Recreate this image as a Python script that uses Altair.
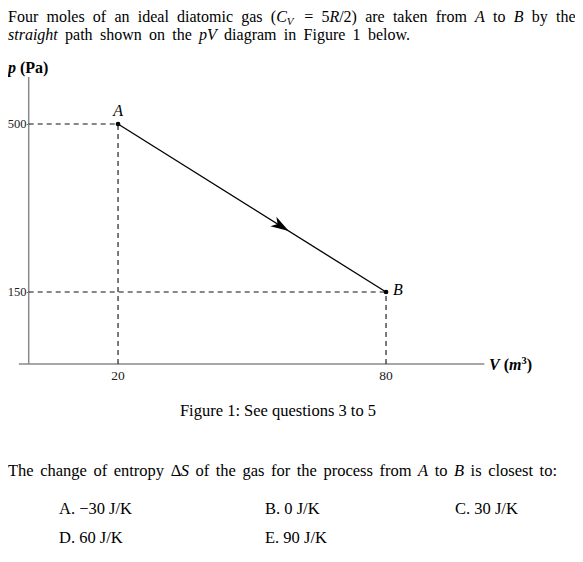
import altair as alt
import pandas as pd

# ---- chart data (pV diagram) ----
V_pts = [20, 80]            # m^3
p_pts = [500, 150]          # Pa
point_labels = ["A", "B"]
x_ticks = [20, 80]
y_ticks = [150, 500]
arrow_V = [56.5]
arrow_p = [287]
axis_V_extent = [-2.2, 102]
axis_p_top = [598]

W, H = 567, 540
SERIF = "Liberation Serif"

# scales: page x = 28.7 + 4.4667*V, page y = 364 - 0.48*p ; chart = page - 8
kx, ky = 4.4667, 0.48
x0, y0 = 28.7 - 8, 364 - 8
xs = alt.Scale(domain=[-x0 / kx, (W - x0) / kx], zero=False, nice=False)
ys = alt.Scale(domain=[(y0 - H) / ky, y0 / ky], zero=False, nice=False)

xaxis = alt.Axis(values=x_ticks, domain=False, ticks=False, labels=False, grid=False,
                 title=None, offset=-(H - y0))
yaxis = alt.Axis(values=y_ticks, domain=False, ticks=True, tickSize=2.5, tickColor="#777",
                 labels=False, grid=False, title=None, offset=-x0)

def X(f):
    return alt.X(f, type="quantitative", scale=xs, axis=xaxis)

def Y(f):
    return alt.Y(f, type="quantitative", scale=ys, axis=yaxis)

pts = pd.DataFrame({"V": V_pts, "p": p_pts, "label": point_labels})
pts["zero"] = 0

ax_h = pd.DataFrame({"a": [axis_V_extent[0]], "b": [axis_V_extent[1]], "p": [0]})
ax_v = pd.DataFrame({"V": [0], "a": [0], "b": axis_p_top})
axis_h = alt.Chart(ax_h).mark_rule(color="#8a8a8a", strokeWidth=1.5).encode(
    x=X("a"), x2="b", y=Y("p"))
axis_v = alt.Chart(ax_v).mark_rule(color="#8a8a8a", strokeWidth=1.5).encode(
    x=X("V"), y=Y("a"), y2="b")

# tick labels (through the same scales)
xt = pd.DataFrame({"V": x_ticks, "p": [0] * len(x_ticks), "t": [str(v) for v in x_ticks]})
yt = pd.DataFrame({"V": [0] * len(y_ticks), "p": y_ticks, "t": [str(v) for v in y_ticks]})
xlab = alt.Chart(xt).mark_text(font=SERIF, fontSize=13.5, color="#222", baseline="top",
                               dy=5).encode(x=X("V"), y=Y("p"), text="t:N")
ylab = alt.Chart(yt).mark_text(font=SERIF, fontSize=12.5, color="#222", align="right",
                               baseline="middle", dx=-2.2).encode(x=X("V"), y=Y("p"),
                                                                  text="t:N")

dash_h = alt.Chart(pts).mark_rule(color="#111", strokeWidth=1.2, strokeDash=[5, 4]).encode(
    x=X("zero"), x2="V", y=Y("p"))
dash_v = alt.Chart(pts).mark_rule(color="#222", strokeWidth=1.2, strokeDash=[5, 4]).encode(
    x=X("V"), y=Y("zero"), y2="p")

path = alt.Chart(pts).mark_line(color="black", strokeWidth=1.3).encode(
    x=X("V"), y=Y("p"), order="V:Q")
dots = alt.Chart(pts).mark_circle(color="black", size=22, opacity=1).encode(
    x=X("V"), y=Y("p"))

arrow = alt.Chart(pd.DataFrame({"V": arrow_V, "p": arrow_p})).mark_point(
    shape="M1,0 L-1,-0.62 L-0.45,0 L-1,0.62 Z", size=330, angle=32,
    filled=True, color="black", opacity=1).encode(x=X("V"), y=Y("p"))

lab_A = alt.Chart(pts).transform_filter(alt.datum.label == "A").mark_text(
    font=SERIF, fontSize=16, fontStyle="italic", baseline="alphabetic", dy=-8).encode(
    x=X("V"), y=Y("p"), text="label:N")
lab_B = alt.Chart(pts).transform_filter(alt.datum.label == "B").mark_text(
    font=SERIF, fontSize=16, fontStyle="italic", baseline="alphabetic", align="left",
    dx=7, dy=3).encode(x=X("V"), y=Y("p"), text="label:N")

# ---- page text: simple word layout with Times-like metrics ----
ROMAN = {' ': 250, '(': 333, ')': 333, '/': 278, ':': 278, '.': 250, '=': 564, '−': 564,
         'A': 722, 'B': 667, 'C': 667, 'D': 722, 'E': 611, 'F': 556, 'J': 389, 'K': 722,
         'P': 556, 'R': 667, 'S': 556, 'T': 611, 'V': 722, 'Δ': 612,
         'a': 444, 'b': 500, 'c': 444, 'd': 500, 'e': 444, 'f': 333, 'g': 500, 'h': 500,
         'i': 278, 'k': 500, 'l': 278, 'm': 778, 'n': 500, 'o': 500, 'p': 500, 'q': 500,
         'r': 333, 's': 389, 't': 278, 'u': 500, 'v': 500, 'w': 722, 'y': 500}
ITALIC = {'A': 611, 'B': 611, 'C': 667, 'R': 611, 'S': 500, 'V': 611, 'p': 500, 's': 389,
          't': 278, 'r': 389, 'a': 500, 'i': 278, 'g': 500, 'h': 500}
BOLD = {'V': 722, '(': 333, ')': 333, 'P': 611, 'a': 500, '3': 500, ' ': 250}
BOLDIT = {'p': 500, 'V': 667, 'm': 778}
METRICS = {"n": ROMAN, "i": ITALIC, "b": BOLD, "bi": BOLDIT}


def char_w(c, st):
    return METRICS[st].get(c, ROMAN.get(c, 500))


def layout(segments, x_start, baseline, size, x_end=None):
    toks = []  # [text, style, sizef, dy, spaces_before]
    pending = 0
    for text, st, sf, dy in segments:
        new_tok = True
        for c in text:
            if c == ' ':
                pending += 1
                new_tok = True
                continue
            if new_tok:
                toks.append([c, st, sf, dy, pending])
                pending = 0
                new_tok = False
            else:
                toks[-1][0] += c
    sp = 250 * size / 1000
    widths = [sum(char_w(c, t[1]) for c in t[0]) * size * t[2] / 1000 for t in toks]
    nsp = sum(t[4] for t in toks)
    natural = sum(widths) + nsp * sp
    extra = 0.0
    if x_end is not None and nsp:
        extra = (x_end - x_start - natural) / nsp
    rows = []
    x = x_start
    for t, w in zip(toks, widths):
        x += t[4] * (sp + extra)
        rows.append((t[0], x - 8, baseline + t[3] - 8, size * t[2], t[1]))
        x += w + (2.5 if t[3] > 0 else 0.0)
    return rows


BODY = 16
rows = []
rows += layout([("Four moles of an ideal diatomic gas (", "n", 1, 0), ("C", "i", 1, 0),
                ("V", "i", 0.68, 3), (" = 5", "n", 1, 0), ("R", "i", 1, 0),
                ("/2) are taken from ", "n", 1, 0), ("A", "i", 1, 0), (" to ", "n", 1, 0),
                ("B", "i", 1, 0), (" by the", "n", 1, 0)], 8, 22, BODY, x_end=573)
rows += layout([("straight", "i", 1, 0), (" path shown on the ", "n", 1, 0),
                ("pV", "i", 1, 0), (" diagram in Figure 1 below.", "n", 1, 0)],
               8, 40, BODY, x_end=411)
rows += layout([("p", "bi", 1, 0), (" (Pa)", "b", 1, 0)], 8, 73, 16)
rows += layout([("V", "bi", 1, 0), (" (", "b", 1, 0), ("m", "bi", 1, 0),
                ("3", "b", 0.65, -6), (")", "b", 1, 0)], 489, 370, 16)
rows += layout([("The change of entropy ", "n", 1, 0), ("Δ", "n", 1, 0), ("S", "i", 1, 0),
                (" of the gas for the process from ", "n", 1, 0), ("A", "i", 1, 0),
                (" to ", "n", 1, 0), ("B", "i", 1, 0), (" is closest to:", "n", 1, 0)],
               8, 476, 16.5, x_end=557)
opt_x = [59, 265, 455]
options = ["A. −30 J/K", "B. 0 J/K", "C. 30 J/K", "D. 60 J/K", "E. 90 J/K"]
for i, o in enumerate(options):
    rows += layout([(o, "n", 1, 0)], opt_x[i % 3], 514 if i < 3 else 543, 16.5)

seg_df = pd.DataFrame(rows, columns=["t", "x", "y", "s", "st"])

styles = {"n": ("normal", "normal"), "i": ("italic", "normal"),
          "b": ("normal", "bold"), "bi": ("italic", "bold")}
text_layers = []
for key, (fs, fw) in styles.items():
    text_layers.append(
        alt.Chart(seg_df).transform_filter(alt.datum.st == key).mark_text(
            font=SERIF, fontStyle=fs, fontWeight=fw, align="left",
            baseline="alphabetic", color="black").encode(
            x=alt.X("x:Q", scale=None, axis=None),
            y=alt.Y("y:Q", scale=None, axis=None),
            size=alt.Size("s:Q", scale=None, legend=None),
            text="t:N"))

caption = alt.Chart(pd.DataFrame({"t": ["Figure 1: See questions 3 to 5"],
                                  "x": [278 - 8], "y": [416 - 8]})).mark_text(
    font=SERIF, fontSize=16.5, align="center", baseline="alphabetic", color="black").encode(
    x=alt.X("x:Q", scale=None, axis=None), y=alt.Y("y:Q", scale=None, axis=None), text="t:N")

chart = alt.layer(axis_h, axis_v, dash_h, dash_v, path, arrow, dots, lab_A, lab_B,
                  xlab, ylab, caption, *text_layers).properties(
    width=W, height=H, padding=0, autosize="none").configure_view(stroke=None)

chart.save("out.html", embed_options={"renderer": "svg", "actions": False})
